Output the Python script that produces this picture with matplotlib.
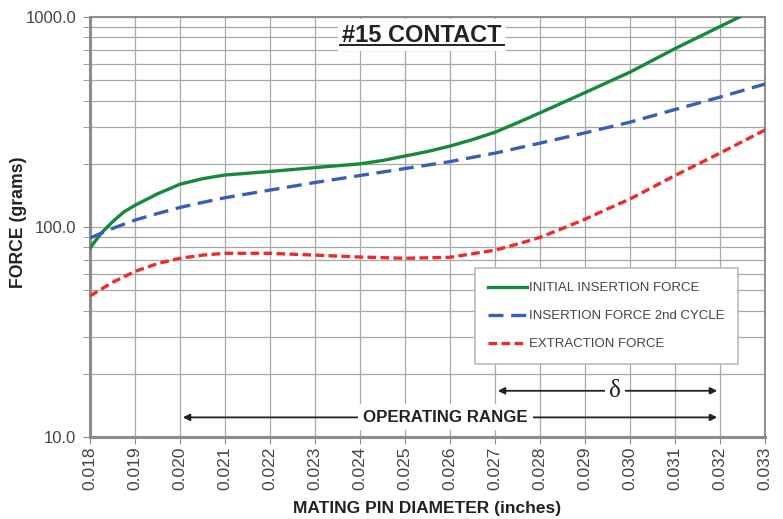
import numpy as np
import matplotlib
matplotlib.use("Agg")
import matplotlib.pyplot as plt
from matplotlib.ticker import FixedLocator, LogLocator, NullFormatter, FuncFormatter
from matplotlib.lines import Line2D

plt.rcParams['font.family'] = ['Liberation Sans', 'DejaVu Sans']

# values
dia_init = [0.018, 0.01825, 0.0185, 0.01875, 0.019, 0.0195, 0.020, 0.0205, 0.021, 0.022,
            0.023, 0.024, 0.0245, 0.025, 0.0255, 0.026, 0.0265, 0.027, 0.0275, 0.028,
            0.029, 0.030, 0.031, 0.032, 0.033]
initial = [79.5, 93.6, 106, 118, 127, 144, 160, 170, 177, 184,
           192, 200, 207.5, 218, 229, 243, 261, 283, 314, 350,
           437, 547, 708, 902, 1148]

dia_2nd = [0.018, 0.0185, 0.019, 0.0195, 0.020, 0.0205, 0.021, 0.022, 0.023, 0.024,
           0.025, 0.026, 0.027, 0.028, 0.029, 0.030, 0.031, 0.032, 0.033]
second = [88.7, 98.5, 108, 116, 124, 131, 138, 150, 163, 176,
          190, 205, 225, 251, 281, 316, 363, 416, 480]

dia_ext = [0.018, 0.0185, 0.019, 0.0195, 0.020, 0.0205, 0.021, 0.022, 0.023, 0.024,
           0.025, 0.026, 0.027, 0.0275, 0.028, 0.0285, 0.029, 0.0295, 0.030, 0.031,
           0.032, 0.033]
extraction = [47, 54.5, 61.5, 67, 71, 73.5, 75, 75, 73.5, 72,
              71, 71.8, 77.6, 83, 89.3, 98.5, 109, 122, 136, 176,
              225, 290]

xticks = [0.018 + 0.001 * i for i in range(16)]

fig = plt.figure(figsize=(7.83, 5.19), dpi=100)
ax = fig.add_axes([0.115, 0.158, 0.862, 0.809])

ax.set_yscale('log')
ax.set_xlim(0.018, 0.033)
ax.set_ylim(10, 1000)

ax.plot(dia_init, initial, color='#17893d', lw=2.4, label='INITIAL INSERTION FORCE', zorder=4)
ax.plot(dia_2nd, second, color='#3a5db5', lw=2.4, dashes=(4.5, 2.3), label='INSERTION FORCE 2nd CYCLE', zorder=4)
ax.plot(dia_ext, extraction, color='#ee2b2b', lw=2.4, dashes=(2.6, 1.3), label='EXTRACTION FORCE', zorder=4)

# grid
ax.xaxis.set_major_locator(FixedLocator(xticks))
ax.xaxis.set_major_formatter(FuncFormatter(lambda v, p: '%.3f' % v))
ax.yaxis.set_major_locator(FixedLocator([10, 100, 1000]))
ax.yaxis.set_major_formatter(FuncFormatter(lambda v, p: '%.1f' % v))
ax.yaxis.set_minor_locator(LogLocator(base=10, subs=np.arange(2, 10)))
ax.yaxis.set_minor_formatter(NullFormatter())
ax.grid(True, which='major', color='#a8a8a8', lw=0.9)
ax.grid(True, which='minor', axis='y', color='#a8a8a8', lw=0.9)
ax.set_axisbelow(True)

for s in ax.spines.values():
    s.set_color('#8c8c8c')
    s.set_linewidth(1.4)
ax.spines['left'].set_linewidth(2.2)
ax.spines['bottom'].set_linewidth(2.2)

ax.tick_params(axis='x', which='major', rotation=90, labelsize=12.5, colors='#8c8c8c',
               labelcolor='#444444', length=5, direction='out', pad=2)
ax.tick_params(axis='y', which='both', colors='#8c8c8c', length=5, direction='out')
ax.tick_params(axis='y', which='major', labelsize=12, labelcolor='#444444', pad=5)

ax.set_xlabel('MATING PIN DIAMETER (inches)', fontsize=12.5, fontweight='bold',
              color='#222222', labelpad=8)
ax.set_ylabel('FORCE (grams)', fontsize=12.7, fontweight='bold', color='#222222')
ax.yaxis.set_label_coords(-0.093, 0.511)

# title with underline
ax.text(0.492, 0.957, '#15 CONTACT', transform=ax.transAxes, ha='center', va='center',
        fontsize=17, fontweight='bold', color='#222222', zorder=6,
        bbox=dict(facecolor='white', edgecolor='none', pad=3))
ax.add_line(Line2D([0.371, 0.614], [0.934, 0.934], transform=ax.transAxes,
                   color='#222222', lw=1.4, zorder=7))

# legend
leg = ax.legend(loc='upper right', bbox_to_anchor=(0.96, 0.402), borderaxespad=0,
                fontsize=9.5, fancybox=False, edgecolor='#bbbbbb', framealpha=1,
                handlelength=2.9, handletextpad=0.15, labelspacing=1.2,
                borderpad=1.05)
leg.get_frame().set_linewidth(1.2)
for t in leg.get_texts():
    t.set_color('#444444')

# operating range arrow
arrow = dict(arrowstyle='-|>', color='#222222', lw=1.3, mutation_scale=10)
y_op = 12.4
ax.annotate('', xy=(0.020, y_op), xytext=(0.0258, y_op), arrowprops=arrow, zorder=5)
ax.annotate('', xy=(0.032, y_op), xytext=(0.0258, y_op), arrowprops=arrow, zorder=5)
ax.text(0.0259, y_op, 'OPERATING RANGE', ha='center', va='center', fontsize=12.2,
        fontweight='bold', color='#222222', zorder=6,
        bbox=dict(facecolor='white', edgecolor='none', pad=4))

# delta arrow
y_d = 16.6
ax.annotate('', xy=(0.027, y_d), xytext=(0.0296, y_d), arrowprops=arrow, zorder=5)
ax.annotate('', xy=(0.032, y_d), xytext=(0.0296, y_d), arrowprops=arrow, zorder=5)
ax.text(0.02967, y_d, 'δ', ha='center', va='center', fontsize=18, family='Liberation Serif',
        color='#222222', zorder=6, bbox=dict(facecolor='white', edgecolor='none', pad=3))

fig.savefig('out.png', dpi=100)
